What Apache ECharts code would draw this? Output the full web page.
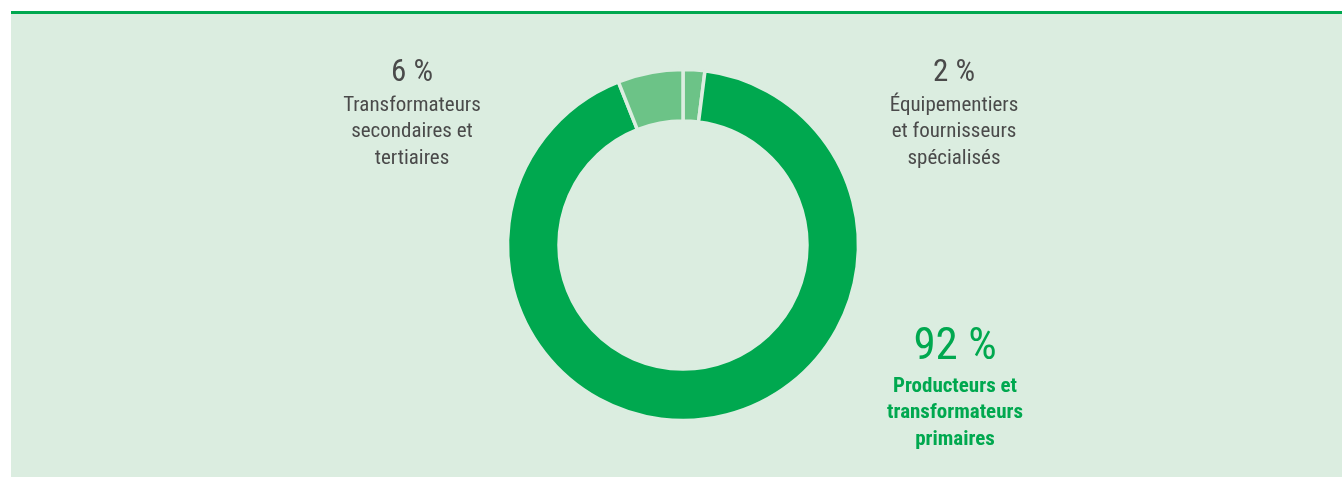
<!DOCTYPE html>
<html lang="fr">
<head>
<meta charset="utf-8">
<script src="https://cdn.jsdelivr.net/npm/echarts@6/dist/echarts.min.js"></script>
<style>
  html, body { margin: 0; padding: 0; background: #ffffff; }
  #chart { width: 1342px; height: 477px; }
</style>
</head>
<body>
<div id="chart"></div>
<script>
// Répartition par catégorie d'acteurs (en %), dans le sens horaire depuis le haut
const categories = [
  'Équipementiers\net fournisseurs\nspécialisés',
  'Producteurs et\ntransformateurs\nprimaires',
  'Transformateurs\nsecondaires et\ntertiaires'
];
const shares = [2, 92, 6];
const sliceColors = ['#6cc387', '#00a84f', '#6cc387'];
const highlighted = [false, true, false];

const BG = '#dbede0';
const GREEN = '#00a84f';
const GREY = '#4a4a4a';
const FONT = '"Liberation Sans Narrow", "Roboto Condensed", "Arial Narrow", "Liberation Sans", sans-serif';

// Label anchors (top-centre of each text block)
const labelAnchors = [[954, 55], [955, 322], [412, 55]];

const chart = echarts.init(document.getElementById('chart'), null, { renderer: 'canvas' });

const data = shares.map((v, i) => ({
  value: v,
  name: categories[i],
  itemStyle: { color: sliceColors[i] },
  label: {
    formatter: highlighted[i]
      ? '{bv|{c} %}\n{bn|{b}}'
      : '{v|{c} %}\n{n|{b}}'
  }
}));

chart.setOption({
  animation: false,
  graphic: [
    { type: 'rect', z: -10, shape: { x: 11, y: 11, width: 1331, height: 466 }, style: { fill: BG } },
    { type: 'rect', z: -9, shape: { x: 11, y: 11, width: 1331, height: 3 }, style: { fill: GREEN } }
  ],
  series: [{
    type: 'pie',
    center: [683, 245],
    radius: [124, 175.5],
    startAngle: 90,
    clockwise: true,
    silent: true,
    itemStyle: { borderColor: BG, borderWidth: 3.5 },
    label: {
      show: true,
      position: 'outside',
      align: 'center',
      verticalAlign: 'top',
      fontFamily: FONT,
      rich: {
        v:  { fontFamily: FONT, fontSize: 31, color: GREY, lineHeight: 37, align: 'center' },
        n:  { fontFamily: FONT, fontSize: 21, color: GREY, lineHeight: 26.5, align: 'center' },
        bv: { fontFamily: FONT, fontSize: 45, color: GREEN, lineHeight: 51, align: 'center' },
        bn: { fontFamily: FONT, fontSize: 21, fontWeight: 'bold', color: GREEN, lineHeight: 26.5, align: 'center' }
      }
    },
    labelLine: { show: false },
    labelLayout: (p) => ({
      x: labelAnchors[p.dataIndex][0],
      y: labelAnchors[p.dataIndex][1],
      align: 'center',
      verticalAlign: 'top',
      moveOverlap: false,
      hideOverlap: false
    }),
    data: data
  }]
});
</script>
</body>
</html>
